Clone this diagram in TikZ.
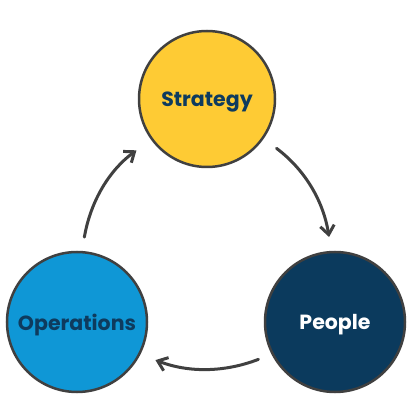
\documentclass[tikz,border=0pt]{standalone}
\usepackage{fontspec}
\setmainfont{Poppins}
\usepackage{tikz}
\usetikzlibrary{arrows.meta}
\definecolor{colStrat}{HTML}{FECB34}
\definecolor{colOps}{HTML}{0F97D6}
\definecolor{colPeople}{HTML}{0B3A5D}
\definecolor{rimcol}{HTML}{404040}
\definecolor{labelcol}{HTML}{0E3B5E}

\begin{document}
\begin{tikzpicture}[x=1pt, y=1pt,
    bubble/.style={circle, draw=rimcol, line width=2.5pt, inner sep=0pt,
      text depth=0pt, font=\fontsize{20.5}{22}\selectfont\bfseries},
    cycarrow/.style={rimcol, line width=3pt, line cap=round,
      -{Straight Barb[length=9pt, width=14pt, line width=3pt]}}]
    \useasboundingbox (0, 0) rectangle (415, 415);
    % circles
    \node[bubble, fill=colStrat, minimum size=136pt, text=labelcol] (strategy) at (207, 316) {Strategy};
    \node[bubble, fill=colOps, minimum size=140pt, text=labelcol] (operations) at (77, 93) {Operations};
    \node[bubble, fill=colPeople, minimum size=140pt, text=white] (people) at (335, 93) {People};
    % arrows
    \draw[cycarrow, shorten <=16pt, shorten >=14pt]
      (strategy.-35) to[bend left=22] (people.93);
    \draw[cycarrow, shorten <=14pt, shorten >=16pt]
      (people.207) to[bend left=21] (operations.-27);
    \draw[cycarrow, shorten <=14pt, shorten >=18pt]
      (operations.86) to[bend left=22] (strategy.216);
\end{tikzpicture}
\end{document}
